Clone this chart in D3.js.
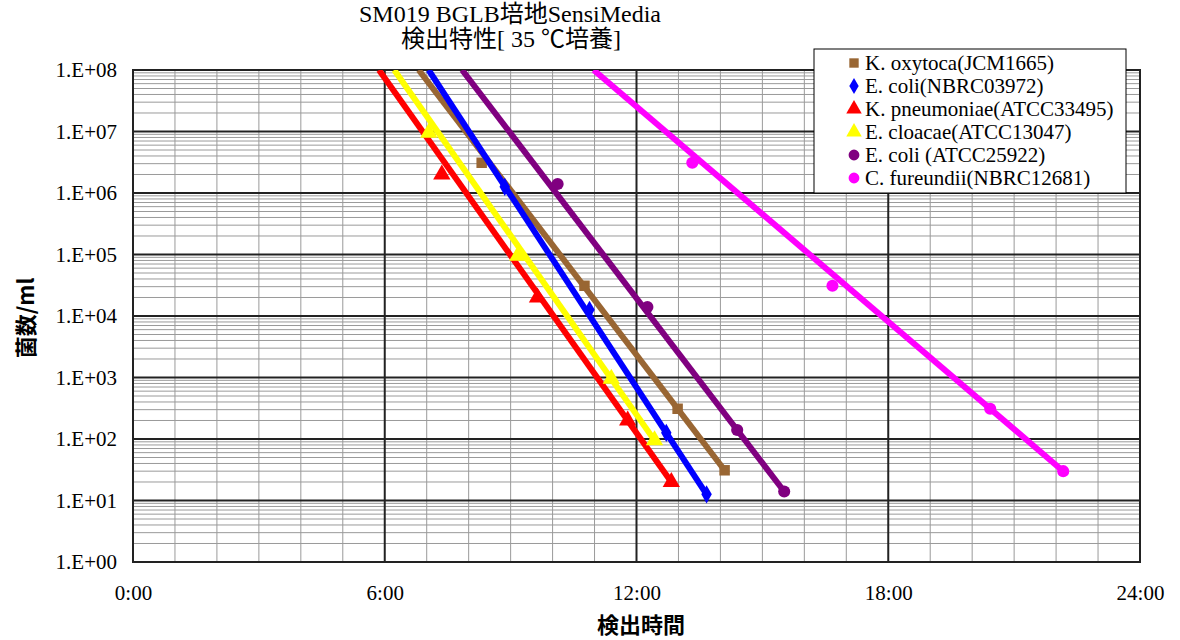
<!DOCTYPE html>
<html>
<head>
<meta charset="utf-8">
<script src="https://cdn.jsdelivr.net/npm/d3@7"></script>
<style>
  body { margin: 0; background: #fff; }
  .serif { font-family: "Liberation Serif", "Noto Sans CJK JP", serif; }
  .gothic { font-family: "Noto Sans CJK JP", sans-serif; }
</style>
</head>
<body>
<div id="chart"></div>
<script>
// data (hours, cells/ml)
var seriesNames = ["K. oxytoca(JCM1665)", "E. coli(NBRC03972)", "K. pneumoniae(ATCC33495)",
                   "E. cloacae(ATCC13047)", "E. coli (ATCC25922)", "C. fureundii(NBRC12681)"];

var koxytocaTime = [8.31, 10.76, 12.98, 14.1];
var koxytocaCount = [3.1e6, 3.1e4, 3.1e2, 3.1e1];

var ecoliNbrcTime = [8.86, 10.88, 12.71, 13.67];
var ecoliNbrcCount = [1.26e6, 1.26e4, 1.26e2, 1.26e1];

var kpneumoniaeTime = [7.36, 9.64, 11.79, 12.83];
var kpneumoniaeCount = [2e6, 2e4, 2e2, 2e1];

var ecloacaeTime = [7.05, 9.17, 11.4, 12.43];
var ecloacaeCount = [9.5e6, 9.5e4, 9.5e2, 9.5e1];

var ecoliAtccTime = [10.12, 12.26, 14.4, 15.52];
var ecoliAtccCount = [1.4e6, 1.4e4, 1.4e2, 1.4e1];

var cfreundiiTime = [13.33, 16.67, 20.43, 22.17];
var cfreundiiCount = [3.1e6, 3.1e4, 3.1e2, 3e1];

var xTicks = [0, 6, 12, 18, 24];
var yTicks = [1, 1e1, 1e2, 1e3, 1e4, 1e5, 1e6, 1e7, 1e8];

var allTimes = [koxytocaTime, ecoliNbrcTime, kpneumoniaeTime, ecloacaeTime, ecoliAtccTime, cfreundiiTime];
var allCounts = [koxytocaCount, ecoliNbrcCount, kpneumoniaeCount, ecloacaeCount, ecoliAtccCount, cfreundiiCount];

// styles
var colors = ["#996633", "#0000ff", "#ff0000", "#ffff00", "#800080", "#ff00ff"];
var symbols = [d3.symbolSquare, d3.symbolDiamond, d3.symbolTriangle, d3.symbolTriangle, d3.symbolCircle, d3.symbolCircle];
var markSize = [110, 95, 130, 130, 115, 115];

var svgWidth = 1180;
var svgHeight = 640;
var margin = { top: 70, right: 40, bottom: 78, left: 133 };
var width = svgWidth - margin.left - margin.right;
var height = svgHeight - margin.top - margin.bottom;

var svg = d3.select("#chart")
  .append("svg")
  .attr("width", svgWidth)
  .attr("height", svgHeight);

var chartGroup = svg.append("g")
  .attr("transform", `translate(${margin.left}, ${margin.top})`);

var xScale = d3.scaleLinear().domain([0, 24]).range([0, width]);
var yScale = d3.scaleLog().domain([1, 1e8]).range([height, 0]);

// gridlines
var hours = d3.range(1, 24).filter(h => h % 6 != 0);
chartGroup.selectAll(".vminor")
  .data(hours)
  .enter()
  .append("line")
  .attr("x1", d => xScale(d)).attr("x2", d => xScale(d))
  .attr("y1", 0).attr("y2", height)
  .attr("stroke", "#9a9a9a").attr("stroke-width", 1);

var minorY = [];
for (var e = 0; e < 8; e++)
  for (var k = 2; k < 10; k++)
    minorY.push(k * Math.pow(10, e));

chartGroup.selectAll(".hminor")
  .data(minorY)
  .enter()
  .append("line")
  .attr("x1", 0).attr("x2", width)
  .attr("y1", d => yScale(d)).attr("y2", d => yScale(d))
  .attr("stroke", "#9a9a9a").attr("stroke-width", 1);

chartGroup.selectAll(".vmajor")
  .data([6, 12, 18])
  .enter()
  .append("line")
  .attr("x1", d => xScale(d)).attr("x2", d => xScale(d))
  .attr("y1", 0).attr("y2", height)
  .attr("stroke", "#222").attr("stroke-width", 2);

chartGroup.selectAll(".hmajor")
  .data(yTicks.slice(1, 8))
  .enter()
  .append("line")
  .attr("x1", 0).attr("x2", width)
  .attr("y1", d => yScale(d)).attr("y2", d => yScale(d))
  .attr("stroke", "#222").attr("stroke-width", 2);

chartGroup.append("rect")
  .attr("width", width).attr("height", height)
  .attr("fill", "none").attr("stroke", "#222").attr("stroke-width", 2);

// axes (labels only, Excel style)
var bottomAxis = d3.axisBottom(xScale)
  .tickValues(xTicks)
  .tickSize(0)
  .tickPadding(23)
  .tickFormat(d => d + ":00");

var leftAxis = d3.axisLeft(yScale)
  .tickValues(yTicks)
  .tickSize(0)
  .tickPadding(16)
  .tickFormat(d => "1.E+" + d3.format("02d")(Math.round(Math.log10(d))));

chartGroup.append("g")
  .attr("transform", `translate(0, ${height})`)
  .call(bottomAxis)
  .call(g => g.select(".domain").remove())
  .selectAll("text")
  .attr("class", "serif")
  .attr("font-size", 21)
  .attr("fill", "#000");

chartGroup.append("g")
  .call(leftAxis)
  .call(g => g.select(".domain").remove())
  .selectAll("text")
  .attr("class", "serif")
  .attr("font-size", 21)
  .attr("fill", "#000");

// trendlines: extended through the last two points up to the top of the plot
svg.append("clipPath").attr("id", "plotclip")
  .append("rect").attr("width", width).attr("height", height);

var line = d3.line()
  .x(d => xScale(d[0]))
  .y(d => yScale(d[1]));

allTimes.forEach(function(times, i) {
  var counts = allCounts[i];
  var n = times.length;
  var slope = (Math.log10(counts[n - 1]) - Math.log10(counts[n - 2])) / (times[n - 1] - times[n - 2]);
  var icpt = Math.log10(counts[n - 1]) - slope * times[n - 1];
  var xStart = (8 - icpt) / slope;
  var fit = [xStart, times[n - 1]].map(x => [x, Math.pow(10, icpt + slope * x)]);

  chartGroup.append("path")
    .datum(fit)
    .attr("clip-path", "url(#plotclip)")
    .attr("d", line)
    .attr("fill", "none")
    .attr("stroke", colors[i])
    .attr("stroke-width", 6);

  chartGroup.selectAll(".pt" + i)
    .data(times.map((t, j) => [t, counts[j]]))
    .enter()
    .append("path")
    .attr("transform", d => `translate(${xScale(d[0])}, ${yScale(d[1])})`)
    .attr("d", d3.symbol().type(symbols[i]).size(markSize[i]))
    .attr("fill", colors[i]);
});

// legend
var legend = svg.append("g").attr("transform", "translate(814, 49)");
legend.append("rect")
  .attr("width", 312).attr("height", 144)
  .attr("fill", "#fff").attr("stroke", "#000").attr("stroke-width", 1);

seriesNames.forEach(function(name, i) {
  var row = legend.append("g").attr("transform", `translate(40, ${14 + i * 23})`);
  row.append("path")
    .attr("d", d3.symbol().type(symbols[i]).size(markSize[i] * 0.8))
    .attr("fill", colors[i]);
  row.append("text")
    .attr("class", "serif")
    .attr("x", 11).attr("y", 7)
    .attr("font-size", 21)
    .text(name);
});

// titles
svg.append("text")
  .attr("class", "serif")
  .attr("x", 510).attr("y", 22)
  .attr("text-anchor", "middle")
  .attr("font-size", 24)
  .text("SM019 BGLB培地SensiMedia");

svg.append("text")
  .attr("class", "serif")
  .attr("x", 511).attr("y", 47)
  .attr("text-anchor", "middle")
  .attr("font-size", 24)
  .text("検出特性[ 35 ℃培養]");

svg.append("text")
  .attr("class", "gothic")
  .attr("x", 641).attr("y", 633)
  .attr("text-anchor", "middle")
  .attr("font-size", 22)
  .attr("font-weight", "bold")
  .text("検出時間");

svg.append("text")
  .attr("class", "gothic")
  .attr("transform", "translate(26, 318) rotate(-90)")
  .attr("dy", "0.35em")
  .attr("text-anchor", "middle")
  .attr("font-size", 22)
  .attr("font-weight", "bold")
  .text("菌数/ml");
</script>
</body>
</html>
